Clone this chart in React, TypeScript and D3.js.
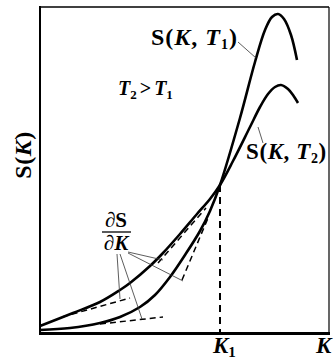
import React from "react";
import * as d3 from "d3";

// Curve S(K,T1) (shorter maturity): strike K, value S (arbitrary units)
const K_T1 = [0, 30, 60, 80, 100, 115, 130, 145, 160, 170, 180, 200, 215, 225, 232, 238, 244, 251, 257];
const S_T1 = [3, 5, 10, 16, 26, 38, 56, 78, 102, 122, 148, 215, 271, 303, 316, 319, 314, 298, 273];
// Curve S(K,T2) (longer maturity)
const K_T2 = [0, 33, 60, 80, 90, 110, 123, 140, 157, 170, 180, 193, 210, 220, 228, 235, 241, 248, 253, 258];
const S_T2 = [7, 20, 31, 43, 50, 67, 80, 99, 119, 134, 148, 172, 206, 226, 239, 246, 248, 244, 238, 230];
// Tangent segments dS/dK: [K0, S0, K1, S1]
const TANGENTS = [
  [22, 16, 90, 35],
  [60, 9, 123, 16],
  [118, 70, 166, 125],
  [142, 53, 168, 115],
];
// Leader lines from the dS/dK label: [K0, S0, K1, S1]
const LEADERS = [
  [88, 81, 123, 73],
  [88, 80, 143, 52],
  [77, 79, 80, 34],
  [80, 79, 102, 14],
];
const K1 = 180;
const S_AT_K1 = 148;

const W = 333;
const H = 361;
const x = d3.scaleLinear().domain([0, 289]).range([40, 329]);
const y = d3.scaleLinear().domain([0, 326]).range([333, 7]);

const FONT = "'Liberation Serif', 'DejaVu Serif', 'Times New Roman', Times, serif";

export default function App() {
  const line = d3
    .line<[number, number]>()
    .x((d) => x(d[0]))
    .y((d) => y(d[1]))
    .curve(d3.curveCatmullRom.alpha(0.5));
  const p1 = line(K_T1.map((k, i) => [k, S_T1[i]] as [number, number])) || "";
  const p2 = line(K_T2.map((k, i) => [k, S_T2[i]] as [number, number])) || "";
  const ts = { fontFamily: FONT, fontWeight: 700 } as React.CSSProperties;
  return (
    <svg
      width={W}
      height={H}
      style={{ position: "absolute", left: 0, top: 0, background: "#fff", fontFamily: FONT }}
    >
      {/* frame */}
      <line x1={40} y1={7} x2={329} y2={7} stroke="#000" strokeWidth={1.5} />
      <line x1={329} y1={7} x2={329} y2={334} stroke="#000" strokeWidth={1.2} />
      <line x1={40} y1={6} x2={40} y2={335} stroke="#000" strokeWidth={2} />
      <line x1={39} y1={333.5} x2={330} y2={333.5} stroke="#000" strokeWidth={3} />

      {/* K1 dashed */}
      <line
        x1={x(K1)}
        y1={y(S_AT_K1)}
        x2={x(K1)}
        y2={y(0)}
        stroke="#000"
        strokeWidth={2}
        strokeDasharray="7 5"
      />

      {/* tangents */}
      {TANGENTS.map((t, i) => (
        <line
          key={"t" + i}
          x1={x(t[0])}
          y1={y(t[1])}
          x2={x(t[2])}
          y2={y(t[3])}
          stroke="#000"
          strokeWidth={1.5}
          strokeDasharray="6 4"
        />
      ))}

      {/* curves */}
      <path d={p1} fill="none" stroke="#000" strokeWidth={2.6} />
      <path d={p2} fill="none" stroke="#000" strokeWidth={2.6} />

      {/* leaders */}
      {LEADERS.map((t, i) => (
        <line
          key={"l" + i}
          x1={x(t[0])}
          y1={y(t[1])}
          x2={x(t[2])}
          y2={y(t[3])}
          stroke="#333"
          strokeWidth={0.8}
        />
      ))}
      <line x1={238} y1={42} x2={256} y2={58} stroke="#333" strokeWidth={0.8} />
      <line x1={258} y1={127} x2={263} y2={143} stroke="#333" strokeWidth={0.8} />

      {/* labels */}
      <text x={151} y={45} style={{ ...ts, fontSize: 24, letterSpacing: 1 }}>
        S(<tspan fontStyle="italic">K</tspan>, <tspan fontStyle="italic">T</tspan>
        <tspan style={{ fontSize: 14 }} dy={4}>1</tspan>
        <tspan dy={-4}>)</tspan>
      </text>
      <text x={246} y={159} style={{ ...ts, fontSize: 23, letterSpacing: 0.6 }}>
        S(<tspan fontStyle="italic">K</tspan>, <tspan fontStyle="italic">T</tspan>
        <tspan style={{ fontSize: 14 }} dy={4}>2</tspan>
        <tspan dy={-4}>)</tspan>
      </text>
      <text x={118} y={95} style={{ ...ts, fontSize: 20 }}>
        <tspan fontStyle="italic">T</tspan>
        <tspan style={{ fontSize: 13 }} dy={4}>2</tspan>
        <tspan dy={-4} dx={3}>&gt;</tspan>
        <tspan fontStyle="italic" dx={3}>T</tspan>
        <tspan style={{ fontSize: 13 }} dy={4}>1</tspan>
      </text>
      <text x={116} y={227} textAnchor="middle" style={{ ...ts, fontSize: 21 }}>
        ∂S
      </text>
      <line x1={102} y1={232} x2={131} y2={232} stroke="#000" strokeWidth={1.3} />
      <text x={116} y={250} textAnchor="middle" style={{ ...ts, fontSize: 21 }}>
        ∂<tspan fontStyle="italic">K</tspan>
      </text>
      <text x={213} y={353} style={{ ...ts, fontSize: 23 }}>
        <tspan fontStyle="italic">K</tspan>
        <tspan style={{ fontSize: 15 }} dy={4}>1</tspan>
      </text>
      <text x={316} y={353} fontStyle="italic" style={{ ...ts, fontSize: 23 }}>
        K
      </text>
      <text
        transform="translate(31,155) rotate(-90)"
        textAnchor="middle"
        style={{ ...ts, fontSize: 24, letterSpacing: 0.5 }}
      >
        S(<tspan fontStyle="italic">K</tspan>)
      </text>
    </svg>
  );
}
